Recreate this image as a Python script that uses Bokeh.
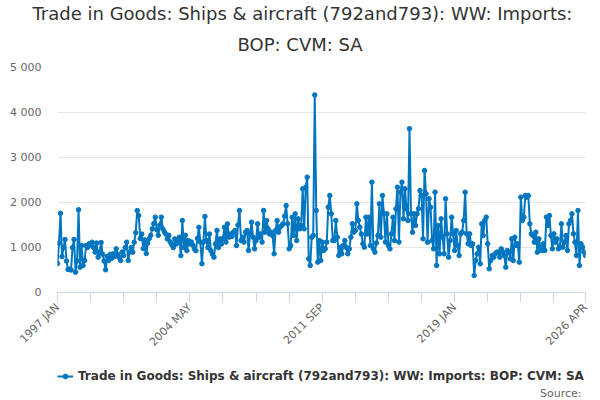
from bokeh.plotting import figure
from bokeh.layouts import column
from bokeh.models import FixedTicker, Legend, LegendItem, Range1d, ColumnDataSource, Title
from bokeh.embed import file_html
from bokeh.resources import INLINE

MONTH_NAMES = ["JAN", "FEB", "MAR", "APR", "MAY", "JUN", "JUL", "AUG", "SEP", "OCT", "NOV", "DEC"]
months = [f"{1997 + i // 12} {MONTH_NAMES[i % 12]}" for i in range(352)]

imports = [
    644, 1100, 1760, 800, 1000, 1178, 700, 511, 520, 500, 1000, 1178,
    452, 700, 1840, 563, 1044, 600, 711, 1044, 1000, 1081, 1050, 1118,
    1000, 896, 1100, 785, 900, 1111, 850, 700, 504, 800, 711, 850,
    760, 859, 800, 970, 850, 780, 711, 900, 822, 1000, 1118, 711,
    900, 1000, 896, 1117, 1330, 1820, 1710, 1200, 1300, 978, 1170, 866,
    1100, 1200, 1270, 1415, 1530, 1675, 1400, 1270, 1500, 1675, 1415, 1350,
    1300, 1190, 1270, 1120, 1060, 1000, 1190, 1080, 1150, 1230, 820, 1600,
    1000, 1270, 930, 1155, 1080, 1120, 1050, 970, 930, 1200, 1450, 1120,
    640, 1120, 1690, 1155, 1000, 1300, 930, 850, 785, 1080, 1380, 1000,
    1190, 1080, 1200, 1450, 1120, 1525, 1230, 1300, 1250, 1340, 1378, 1044,
    1500, 1822, 1155, 1230, 1120, 1340, 1378, 933, 1300, 1563, 1230, 970,
    1155, 1526, 1230, 1300, 1120, 1822, 1340, 1600, 1415, 1300, 1340, 1267,
    860, 1378, 1600, 1340, 1452, 1490, 1526, 1700, 1933, 1526, 970, 1044,
    1674, 1267, 1748, 1155, 1637, 1415, 1490, 2304, 1415, 2341, 2563, 748,
    600, 1230, 1267, 4390, 1822, 674, 1155, 711, 1120, 933, 970, 1120,
    1896, 2156, 1748, 1155, 1155, 1600, 1230, 822, 1007, 860, 1044, 1155,
    1000, 860, 970, 1230, 1526, 1340, 1378, 1970, 1600, 1452, 1300, 1081,
    1007, 1674, 1300, 1674, 1044, 2452, 970, 896, 1100, 1267, 1970, 1230,
    2156, 1748, 1120, 1748, 1044, 970, 1300, 1674, 1155, 1860, 2341, 1120,
    2230, 2452, 1637, 2304, 1860, 1600, 3640, 1748, 1340, 1748, 1489, 1748,
    1860, 2267, 2156, 1193, 2711, 2193, 1119, 2082, 1896, 1155, 970, 2230,
    600, 1489, 859, 1637, 1230, 859, 2082, 1304, 785, 1155, 1674, 1304,
    933, 1378, 1044, 822, 1304, 1341, 1600, 2230, 1304, 1081, 1304, 1044,
    1081, 378, 711, 859, 1007, 637, 1526, 1267, 1600, 1674, 1081, 526,
    711, 822, 785, 859, 896, 900, 785, 970, 896, 822, 563, 933,
    896, 748, 1193, 711, 1230, 1044, 1081, 674, 2119, 1600, 1674, 2156,
    2119, 2156, 1526, 1304, 1267, 1118, 1341, 896, 1193, 1007, 933, 1081,
    933, 1674, 1489, 1711, 1267, 970, 1304, 1118, 1193, 970, 1007, 1526,
    1007, 1118, 1267, 933, 1526, 1600, 1748, 1304, 1118, 822, 1822, 600,
    1081, 1007, 900, 822,
]

tick_labels = ["1997 JAN", "2004 MAY", "2011 SEP", "2019 JAN", "2026 APR"]
y_ticks = [0, 1000, 2000, 3000, 4000, 5000]
y_tick_labels = ["0", "1 000", "2 000", "3 000", "4 000", "5 000"]

series_name = "Trade in Goods: Ships & aircraft (792and793): WW: Imports: BOP: CVM: SA"
title_line1 = "Trade in Goods: Ships & aircraft (792and793): WW: Imports:"
title_line2 = "BOP: CVM: SA"
source_text = "Source:"

FONT = "DejaVu Sans"
COLOR = "#0076c0"
W = 600

n = len(imports)
src = ColumnDataSource(dict(x=list(range(n)), y=imports, label=months))

# ---------------- main chart ----------------
p = figure(width=W, height=360, output_backend="svg", toolbar_location=None,
           x_range=Range1d(0, n - 1), y_range=Range1d(0, 5000),
           min_border_left=57, min_border_right=15, min_border_top=67, min_border_bottom=68)
p.title = None
p.outline_line_color = None
p.background_fill_color = "white"
p.border_fill_color = "white"

p.add_layout(Title(text=title_line2, align="left", text_font=FONT, text_font_size="18px",
                   text_font_style="normal", text_color="#333333", offset=180, standoff=25), "above")
p.add_layout(Title(text=title_line1, align="left", text_font=FONT, text_font_size="18px",
                   text_font_style="normal", text_color="#333333", offset=-25, standoff=-8), "above")

ln = p.line("x", "y", source=src, line_color=COLOR, line_width=2)
sc = p.scatter("x", "y", source=src, size=4.5, fill_color=COLOR, line_color=COLOR)

minor_positions = list(range(0, n, 22)) + [n - 1]
p.xaxis.ticker = FixedTicker(ticks=sorted(set(minor_positions)))
overrides = {i: "" for i in minor_positions}
for t in tick_labels:
    overrides[months.index(t)] = t
p.xaxis.major_label_overrides = overrides
p.xaxis.major_label_orientation = 0.785398
p.xaxis.axis_line_color = "#ccd6eb"
p.xaxis.major_tick_line_color = "#ccd6eb"
p.xaxis.major_tick_out = 10
p.xaxis.major_tick_in = 0
p.xaxis.minor_tick_line_color = None
p.xaxis.major_label_text_font = FONT
p.xaxis.major_label_text_font_size = "11px"
p.xaxis.major_label_text_color = "#666666"
p.xaxis.major_label_standoff = 3

p.yaxis.ticker = FixedTicker(ticks=y_ticks)
p.yaxis.major_label_overrides = dict(zip(y_ticks, y_tick_labels))
p.yaxis.axis_line_color = None
p.yaxis.major_tick_line_color = None
p.yaxis.minor_tick_line_color = None
p.yaxis.major_tick_out = 0
p.yaxis.major_label_standoff = 16
p.yaxis.major_label_text_font = FONT
p.yaxis.major_label_text_font_size = "11px"
p.yaxis.major_label_text_color = "#666666"

p.xgrid.grid_line_color = None
p.ygrid.grid_line_color = "#e6e6e6"
p.ygrid.ticker = FixedTicker(ticks=y_ticks)


def strip(h):
    f = figure(width=W, height=h, output_backend="svg", toolbar_location=None,
               x_range=Range1d(0, n - 1), y_range=Range1d(10000, 20000),
               x_axis_type=None, y_axis_type=None, min_border=0)
    f.title = None
    f.outline_line_color = None
    f.xgrid.grid_line_color = None
    f.ygrid.grid_line_color = None
    f.background_fill_color = "white"
    f.border_fill_color = "white"
    return f


# ---------------- legend strip ----------------
# same series again, but outside this strip's value range: only its legend entry shows
leg = strip(24)
leg_line = leg.line("x", "y", source=src, line_color=COLOR, line_width=2)
leg_dot = leg.scatter("x", "y", source=src, size=5, fill_color=COLOR, line_color=COLOR)
legend = Legend(items=[LegendItem(label=series_name, renderers=[leg_line, leg_dot])],
                orientation="horizontal", location=(0, 1),
                label_text_font=FONT, label_text_font_size="12px", label_text_font_style="bold",
                label_text_color="#333333", glyph_width=16, glyph_height=12, label_standoff=5,
                padding=0, margin=0, spacing=0,
                border_line_color=None, background_fill_alpha=0)
leg.add_layout(legend, "center")

# ---------------- source strip ----------------
srcfig = strip(16)
srcfig.add_layout(Title(text=source_text, align="right", text_font=FONT, text_font_size="11px",
                        text_font_style="normal", text_color="#666666", offset=4, standoff=0), "above")

page = column(p, leg, srcfig, spacing=0)
open("out.html", "w").write(file_html(page, INLINE))
